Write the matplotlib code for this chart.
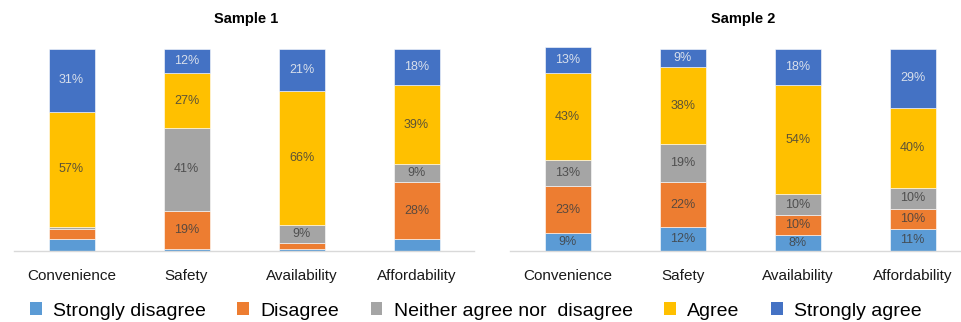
import matplotlib
matplotlib.use("Agg")
import matplotlib.pyplot as plt
from matplotlib.patches import Patch

plt.rcParams["font.family"] = ["Liberation Sans", "DejaVu Sans"]

aspects = ["Convenience", "Safety", "Availability", "Affordability"]
levels = ["Strongly disagree", "Disagree", "Neither agree nor  disagree",
          "Agree", "Strongly agree"]
colors = ["#5B9BD5", "#ED7D31", "#A5A5A5", "#FFC000", "#4472C4"]

# percentages per level, one value per aspect
s1_strongly_disagree = [6, 1, 1, 6]
s1_disagree = [5, 19, 3, 28]
s1_neither = [1, 41, 9, 9]
s1_agree = [57, 27, 66, 39]
s1_strongly_agree = [31, 12, 21, 18]

s2_strongly_disagree = [9, 12, 8, 11]
s2_disagree = [23, 22, 10, 10]
s2_neither = [13, 19, 10, 10]
s2_agree = [43, 38, 54, 40]
s2_strongly_agree = [13, 9, 18, 29]

samples = {
    "Sample 1": [s1_strongly_disagree, s1_disagree, s1_neither, s1_agree, s1_strongly_agree],
    "Sample 2": [s2_strongly_disagree, s2_disagree, s2_neither, s2_agree, s2_strongly_agree],
}

W, H = 961, 322
fig = plt.figure(figsize=(W / 100, H / 100), dpi=100)

# axes boxes in pixels: left, right; shared baseline/top
boxes = {"Sample 1": (14, 474, -0.5, 3.5), "Sample 2": (510, 961, -0.5, 3.42)}
title_x = {"Sample 1": 246, "Sample 2": 743}
base_px, top_px = 251, 49


def stacked(ax, series):
    x = range(len(aspects))
    bottom = [0] * len(aspects)
    for lvl, vals in enumerate(series):
        bars = ax.bar(x, vals, 0.4, bottom=bottom, color=colors[lvl],
                      edgecolor="white", linewidth=0.4, clip_on=False)
        txt = "#F2F2F2" if lvl == 4 else "#404040"
        for b, v in zip(bars, vals):
            if v >= 8:
                ax.text(b.get_x() + b.get_width() / 2, b.get_y() + v / 2,
                        f"{v}%", ha="center", va="center", fontsize=9,
                        color=txt, alpha=0.85)
        bottom = [b0 + v for b0, v in zip(bottom, vals)]


for name, series in samples.items():
    l, r, x0, x1 = boxes[name]
    ax = fig.add_axes([l / W, (H - base_px) / H, (r - l) / W, (base_px - top_px) / H])
    stacked(ax, series)
    ax.set_xlim(x0, x1)
    ax.set_ylim(0, 100)
    ax.set_yticks([])
    ax.set_xticks(range(len(aspects)))
    ax.set_xticklabels(aspects, fontsize=11, color="#1a1a1a")
    ax.tick_params(axis="x", length=0, pad=13)
    for s in ("top", "left", "right"):
        ax.spines[s].set_visible(False)
    ax.spines["bottom"].set_color("#D9D9D9")
    ax.spines["bottom"].set_linewidth(1)
    fig.text(title_x[name] / W, 1 - 19 / H, name, ha="center", va="center",
             fontsize=10.5, fontweight="bold")

handles = [Patch(facecolor=c, edgecolor="none") for c in colors]
fig.legend(handles, levels, loc="center", bbox_to_anchor=(476 / W, 11 / H),
           ncol=5, frameon=False, fontsize=14, handlelength=0.6,
           handleheight=0.6, handletextpad=0.6, columnspacing=1.6)

fig.savefig("out.png", dpi=100)
